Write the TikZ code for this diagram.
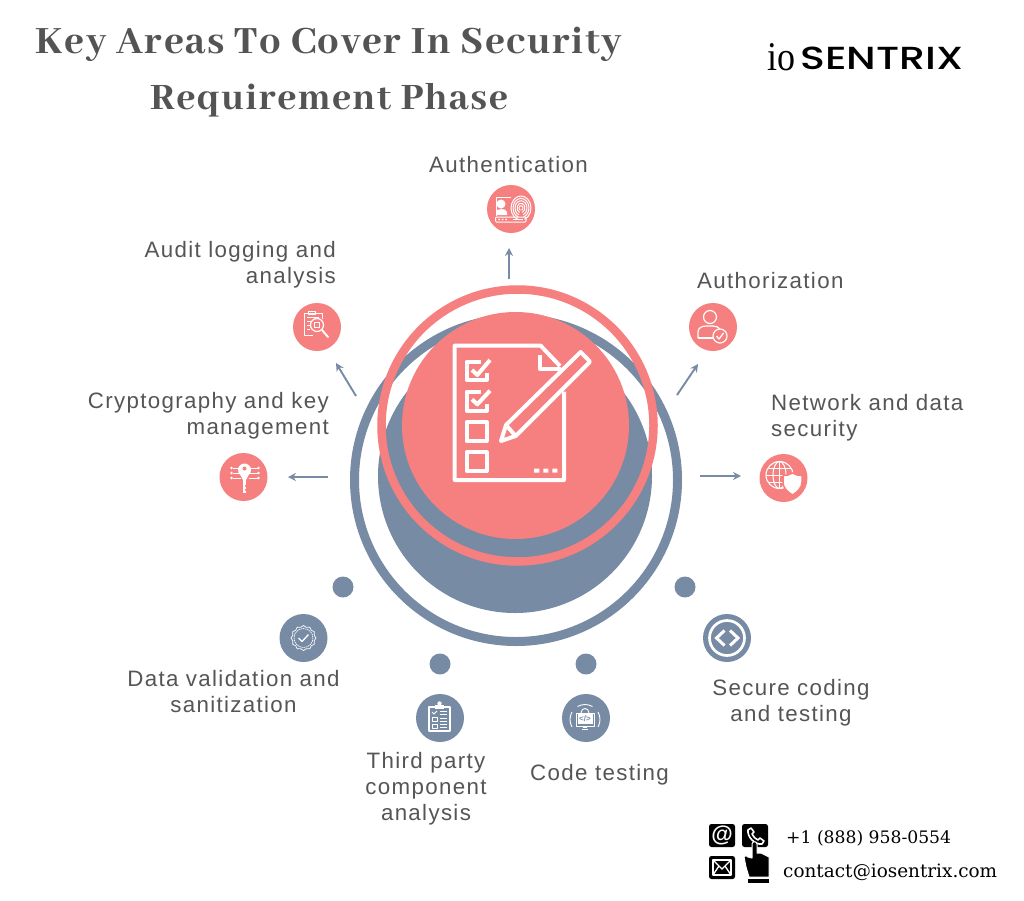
\documentclass[tikz,border=0pt]{standalone}
\usepackage{fontspec}
\usetikzlibrary{arrows.meta}
\setmainfont{Liberation Sans}
\newfontfamily\titlefont[LetterSpace=4]{Abhaya Libre ExtraBold}
\newfontfamily\bodyfont[LetterSpace=6]{Liberation Sans}
\newfontfamily\contactfont{DejaVu Serif}
\newfontfamily\logoio{Liberation Serif}
\newfontfamily\logobold{Poppins Medium}
\definecolor{salmon}{HTML}{F67F7F}
\definecolor{slate}{HTML}{788BA5}
\definecolor{bodytxt}{HTML}{555555}
\definecolor{titletxt}{HTML}{545454}
\tikzset{
  lbl/.style={text=bodytxt,inner sep=0pt,font=\bodyfont\fontsize{22.3}{26}\selectfont},
  ttl/.style={text=titletxt,inner sep=0pt,align=center,font=\titlefont\fontsize{42.5}{56}\selectfont},
  disc/.style={circle,minimum size=48pt,inner sep=0pt},
  sdisc/.style={disc,fill=salmon},
  bdisc/.style={disc,fill=slate},
  dotn/.style={circle,fill=slate,minimum size=21pt,inner sep=0pt},
  flow/.style={draw=slate,line width=1.9pt,-{Stealth[length=8pt,width=8pt]}},
  ico/.style={draw=white,line width=1pt,fill=none,line join=round},
  mainico/.style={draw=white,line width=4pt,fill=none,line join=round},
}
\begin{document}
\begin{tikzpicture}[x=1pt,y=-1pt]
\useasboundingbox (0,0) rectangle (1024,900);
\fill[white] (0,0) rectangle (1024,900);

% central circles
\node[circle,draw=slate,line width=9pt,minimum size=323pt,inner sep=0pt] (bigring) at (516,480) {};
\node[circle,fill=slate,minimum size=274pt,inner sep=0pt] (bigdisc) at (515,476) {};
\node[circle,draw=salmon,line width=8.5pt,minimum size=272pt,inner sep=0pt] (smallring) at (517.5,425.5) {};
\node[circle,fill=salmon,minimum size=227pt,inner sep=0pt] (smalldisc) at (515.5,425.5) {};

% main icon (coordinates read from a 3x crop)
\begin{scope}[shift={(370,280)},x=0.33333pt,y=-0.33333pt]
  \draw[mainico] (570,258) -- (512,197) -- (254,197) -- (254,600) -- (582,600) -- (582,335);
  \draw[mainico] (510,226) -- (510,268) -- (572,268);
  \draw[mainico] (393,483) -- (408,435) -- (632,216) -- (660,245) -- (437,468) -- cycle;
  \draw[mainico] (408,435) -- (437,468);
  \draw[mainico] (332,245) -- (290,245) -- (290,300) -- (350,300) -- (350,280);
  \draw[mainico] (332,335) -- (290,335) -- (290,393) -- (350,393) -- (350,372);
  \draw[mainico] (290,427) rectangle (350,483);
  \draw[mainico] (290,517) rectangle (350,573);
  \draw[mainico] (306,270) -- (322,285) -- (360,240);
  \draw[mainico] (306,358) -- (322,373) -- (360,332);
  \fill[white] (492,566) rectangle (508,578) (520,566) rectangle (535,578) (547,566) rectangle (562,578);
\end{scope}

% icon discs
\node[sdisc] (auth) at (511,209) {};
\node[sdisc] (audit) at (317,327) {};
\node[sdisc] (crypt) at (243.5,477) {};
\node[sdisc] (authz) at (713,327) {};
\node[sdisc] (netw) at (783.5,478) {};
\node[bdisc] (data) at (303.5,638) {};
\node[bdisc] (third) at (440,718) {};
\node[bdisc] (codet) at (586,718) {};
\node[bdisc] (secure) at (727,638) {};

% small dots
\node[dotn] (d1) at (343,587) {};
\node[dotn] (d2) at (440,664) {};
\node[dotn] (d3) at (586,664) {};
\node[dotn] (d4) at (685,587) {};

% arrows
\coordinate (a1) at (509,279); \coordinate (a1e) at (509,248);
\coordinate (a2) at (356,396); \coordinate (a2e) at (336,363);
\coordinate (a3) at (328,477); \coordinate (a3e) at (288,477);
\coordinate (a4) at (677,395); \coordinate (a4e) at (698,364);
\coordinate (a5) at (700,476); \coordinate (a5e) at (741,476);
\draw[flow] (a1) -- (a1e);
\draw[flow] (a2) -- (a2e);
\draw[flow] (a3) -- (a3e);
\draw[flow] (a4) -- (a4e);
\draw[flow] (a5) -- (a5e);

% authentication icon
\begin{scope}[shift={(auth)}]
  \draw[ico] (0,-12) -- (-15,-12) -- (-15,7);
  \fill[white] (-10,-5) circle[radius=4.5];
  \fill[white] (-15,6) -- (-15,3) .. controls (-15,-1) and (-4,-1) .. (-4,3) -- (-4,6) -- cycle;
  \draw[ico,rounded corners=1pt] (-15.5,8) rectangle (15,13);
  \foreach \q in {-12,-8.5,-5} \fill[white] (\q,10.5) circle[radius=1];
  \draw[ico,line width=.7pt] (2,10.5) -- (12,10.5);
  \foreach \r in {2,4,6,8,10}
    \draw[ico,line width=1pt] ({10+\r*cos(110)},{-1+1.2*\r*sin(110)}) arc[start angle=110,end angle=430,x radius=\r,y radius={1.2*\r}];
\end{scope}

% audit icon
\begin{scope}[shift={(audit)}]
  \draw[ico] (-5,-14) -- (-13,-14) -- (-13,8) -- (-4,8);
  \draw[ico] (-9,-16) rectangle (-2,-13);
  \draw[ico] (-5,-14) -- (5,-14) -- (5,-8);
  \draw[ico,line width=.7pt] (-10,-10) -- (2,-10) (-10,-6) -- (-6,-6) (-10,-2) -- (-7,-2) (-10,2) -- (-7,2);
  \draw[ico,line width=1.2pt] (0,-2) circle[radius=6.5];
  \draw[ico,line width=.8pt] (-2.5,-4.5) rectangle (2.5,0.5);
  \draw[white,line width=2pt,line cap=round] (5,3) -- (11,10);
\end{scope}

% cryptography icon
\begin{scope}[shift={(crypt)}]
  \fill[white] (1,-7) circle[radius=6.5];
  \fill[white] (-3.5,-3) -- (5.5,-3) -- (2.5,3) -- (-0.5,3) -- cycle;
  \fill[salmon] (1,-8.5) circle[radius=2];
  \fill[white] (-0.8,1) rectangle (2.8,16);
  \fill[salmon] (1.3,8) rectangle (2.8,9.5) (1.3,12) rectangle (2.8,13.5);
  \draw[ico,line width=1pt] (-4,-9) -- (-11,-9) (-4,-4) -- (-11,-4) (-3,1) -- (-11,1)
     (6,-9) -- (14,-9) (6,-4) -- (14,-4) (5,1) -- (14,1);
  \foreach \q/\w in {-12/-9,-12/-4,-12/1,15/-9,15/-4,15/1} \fill[white] (\q,\w) circle[radius=1.3];
\end{scope}

% authorization icon
\begin{scope}[shift={(authz)}]
  \draw[ico,line width=1.2pt] (-3,-10) circle[radius=6.5];
  \draw[ico,line width=1.2pt] (-15,11) -- (-15,5) .. controls (-15,0) and (-10,-1) .. (-6,-1) -- (0,-1) .. controls (3,-1) and (5,0) .. (7,2);
  \draw[ico,line width=1.2pt] (-15,11) -- (0,11);
  \draw[ico,line width=1.2pt] (7,9) circle[radius=7];
  \draw[ico,line width=1.3pt] (3.5,9) -- (6,12) -- (10.5,6);
\end{scope}

% network icon
\begin{scope}[shift={(netw)}]
  \draw[ico,line width=1.1pt] (-4,-3) circle[radius=13.5];
  \draw[ico,line width=1pt] (-4,-3) ellipse[x radius=6.5,y radius=13.5];
  \draw[ico,line width=1pt] (-4,-16.5) -- (-4,10.5) (-17.5,-3) -- (9.5,-3) (-15.5,-10) -- (7.5,-10) (-15.5,4) -- (7.5,4);
  \fill[white,draw=salmon,line width=1.5pt] (9,-5) .. controls (12,-3) and (15,-2.5) .. (18.5,-2.5) -- (18.5,4)
     .. controls (18.5,10) and (14,14) .. (9,17) .. controls (4,14) and (-0.5,10) .. (-0.5,4) -- (-0.5,-2.5)
     .. controls (3,-2.5) and (6,-3) .. (9,-5) -- cycle;
\end{scope}

% data validation icon
\begin{scope}[shift={(data)}]
  \draw[ico,line width=.7pt,dash pattern=on 1.5pt off .7pt] (0,0) circle[radius=9.5];
  \draw[ico,line width=.7pt] (0:12.5)
    \foreach \t in {15,30,...,345} { -- ({\t}:{mod(\t,30)==0 ? 12.5 : 11}) } -- cycle;
  \draw[ico,line width=1.3pt] (-5,0) -- (-1.5,3.5) -- (5,-3.5);
\end{scope}

% third party icon
\begin{scope}[shift={(third)}]
  \draw[ico,line width=1.1pt] (-11,-11) rectangle (10,13);
  \fill[white] (-5,-13) rectangle (4,-9);
  \fill[white] (-0.5,-14.5) circle[radius=2.2];
  \draw[ico,line width=.9pt] (-8,-6) -- (-6,-4) -- (-3,-7);
  \draw[ico,line width=.8pt] (-8,-1) rectangle (-3,3) (-8,6) rectangle (-3,10);
  \draw[ico,line width=1pt] (0,-7) -- (7,-7) (0,-4) -- (7,-4) (0,0) -- (7,0) (0,3) -- (7,3) (0,6.5) -- (7,6.5) (0,9.5) -- (7,9.5);
\end{scope}

% code testing icon
\begin{scope}[shift={(codet)}]
  \fill[white] (-8.5,-4) rectangle (6.5,6);
  \draw[ico,line width=.9pt] (-10,-5) rectangle (8,8);
  \draw[ico,line width=.9pt] (-5,-5) .. controls (-5,-11) and (3,-11) .. (3,-5);
  \draw[ico,line width=.8pt] (-4,11) -- (2,11);
  \fill[white] (-3,8) rectangle (1,10);
  \node[inner sep=0pt,text=slate,font=\fontsize{8}{8}\selectfont\bfseries] (codetag) at (-1,1) {</>};
  \draw[ico,line width=.9pt] (-1,1.5) ++(240:15) arc[start angle=240,end angle=300,radius=15];
  \draw[ico,line width=.9pt] (-1,1.5) ++(150:15) arc[start angle=150,end angle=210,radius=15];
  \draw[ico,line width=.9pt] (-1,1.5) ++(-30:15) arc[start angle=-30,end angle=30,radius=15];
\end{scope}

% secure coding icon
\begin{scope}[shift={(secure)}]
  \draw[white,line width=2.7pt] (0,0) circle[radius=17.5];
  \draw[white,line width=3pt,line join=miter] (-2.5,-7.5) -- (-10.5,0) -- (-2.5,7.5);
  \draw[white,line width=3pt,line join=miter] (3,-7.5) -- (11,0) -- (3,7.5);
\end{scope}

% title
\node[ttl] (title) at (329,72) {Key Areas To Cover In Security\\{\fontsize{41}{56}\selectfont Requirement Phase}};

% logo
\node[inner sep=0pt,anchor=base west,text=black] (logoa) at (767,70)
  {\resizebox{28pt}{27pt}{\logoio io}};
\node[inner sep=0pt,anchor=base west,text=black] (logob) at (800,69.5)
  {\resizebox{163pt}{22.5pt}{\logobold SENTRIX}};

% labels
\node[lbl] (lauth) at (508.5,165) {Authentication};
\node[lbl,align=right,anchor=east] (laudit) at (336,265) {Audit logging and\\analysis};
\node[lbl,anchor=west] (lauthz) at (697,281) {Authorization};
\node[lbl,align=left,anchor=west] (lnet) at (771,417.5) {Network and data\\security};
\node[lbl,align=right,anchor=east] (lcrypt) at (329,415.5) {Cryptography and key\\management};
\node[lbl,align=center] (ldata) at (233.5,692) {Data validation and\\sanitization};
\node[lbl,align=center] (lthird) at (426,789) {Third party\\component\\analysis};
\node[lbl] (lcode) at (599.5,775) {Code testing};
\node[lbl,align=center] (lsec) at (791,703) {Secure coding\\and testing};

% contact block
\fill[black,rounded corners=2.5pt] (709,824) rectangle (735,847);
\node[inner sep=0pt,text=white,font=\fontsize{22}{22}\selectfont\bfseries] (atsign) at (722,835) {@};
\fill[black,rounded corners=2.5pt] (742,824) rectangle (768,847);
\draw[white,line width=1.6pt,line join=round] (748,830) -- (751,828) -- (754,832) -- (752,834) .. controls (753,837) and (756,839) .. (758,840) -- (760,838) -- (764,841) -- (762,844) .. controls (755,845) and (747,837) .. (748,830) -- cycle;
\fill[black,rounded corners=2.5pt] (709,856) rectangle (735,879);
\draw[white,line width=1.4pt,line join=round] (713,860) rectangle (731,875);
\draw[white,line width=1.3pt] (713,860) -- (722,869) -- (731,860) (713,875) -- (719,866) (731,875) -- (725,866);
\fill[black,draw=white,line width=1pt,line join=round] (752,858) -- (752,844) .. controls (752,841) and (757,841) .. (757,844) -- (757,853) -- (761,853) -- (765,855) -- (769,857) -- (769,877) -- (749,877) -- (746,867) -- (744,857) .. controls (745,855) and (747,855) .. (748,857) -- cycle;
\fill[black] (748,879) rectangle (769,883);
\node[inner sep=0pt,text=black,anchor=base west,font=\contactfont\fontsize{17.2}{20}\selectfont] (phone) at (786,843) {+1 (888) 958-0554};
\node[inner sep=0pt,text=black,anchor=base west,font=\contactfont\fontsize{18.4}{20}\selectfont] (mail) at (783,877) {contact@iosentrix.com};
\end{tikzpicture}
\end{document}
